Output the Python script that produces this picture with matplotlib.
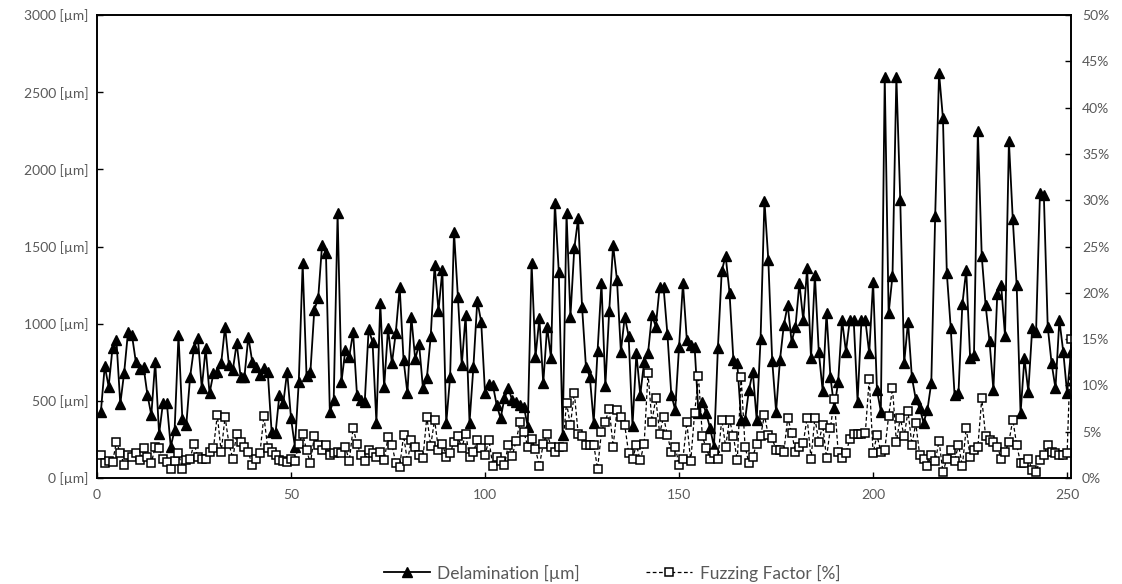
import numpy as np
import matplotlib
matplotlib.use("Agg")
import matplotlib.pyplot as plt
from matplotlib.lines import Line2D

plt.rcParams['font.family'] = ['Lato', 'DejaVu Sans']

# delamination per sample [um], samples 1..251
delamination = [
    430, 726, 592, 842, 894, 480, 683, 948, 927, 754,
    706, 719, 538, 408, 754, 285, 486, 486, 203, 311,
    927, 382, 343, 657, 842, 907, 583, 840, 549, 678,
    689, 743, 981, 732, 700, 873, 657, 657, 916, 754,
    721, 667, 711, 689, 300, 289, 538, 484, 689, 387,
    203, 624, 1390, 660, 690, 1089, 1165, 1510, 1456, 430,
    505, 1715, 624, 830, 786, 944, 538, 505, 495, 963,
    883, 359, 1132, 588, 970, 743, 942, 1236, 765, 549,
    1045, 769, 868, 581, 646, 918, 1380, 1085, 1348, 354,
    657, 1596, 1175, 732, 1056, 359, 721, 1147, 1013, 549,
    609, 603, 473, 387, 516, 581, 505, 495, 473, 462,
    333, 1391, 786, 1035, 614, 981, 776, 1785, 1337, 279,
    1715, 1045, 1488, 1683, 1110, 721, 657, 359, 825, 1262,
    596, 1084, 1510, 1283, 819, 1045, 920, 337, 808, 538,
    754, 808, 1056, 981, 1240, 1236, 930, 540, 441, 851,
    1262, 894, 862, 851, 419, 495, 419, 322, 203, 840,
    1343, 1439, 1201, 765, 743, 376, 376, 570, 689, 376,
    899, 1797, 1413, 760, 430, 765, 992, 1121, 883, 981,
    1262, 1024, 1359, 776, 1316, 819, 566, 1071, 657, 452,
    624, 1024, 819, 1024, 1024, 495, 1024, 1024, 808, 1272,
    570, 430, 2600, 1067, 1310, 2601, 1802, 743, 1013, 652,
    510, 452, 359, 441, 618, 1698, 2623, 2331, 1327, 975,
    535, 550, 1125, 1348, 780, 797, 2250, 1437, 1118, 887,
    572, 1190, 1250, 920, 2183, 1675, 1250, 419, 776, 560,
    970, 948, 1845, 1834, 981, 743, 581, 1024, 819, 549,
    819,
]

# fuzzing factor per sample [%]
fuzzing = [
    2.5, 1.6, 1.8, 1.7, 3.9, 2.7, 1.4, 2.5, 2.3, 2.7,
    1.9, 3.2, 2.3, 1.6, 3.4, 3.2, 2.1, 1.7, 1.0, 1.8,
    2.7, 1.0, 1.9, 2.1, 3.7, 2.3, 2.1, 2.1, 2.8, 3.2,
    6.8, 2.8, 6.6, 3.7, 2.1, 4.8, 3.9, 3.4, 2.8, 1.4,
    2.1, 2.7, 6.7, 3.2, 2.8, 2.5, 1.9, 1.8, 1.7, 2.1,
    1.8, 3.7, 4.8, 3.0, 1.6, 4.5, 3.6, 3.0, 3.6, 2.5,
    2.7, 2.8, 2.7, 3.4, 1.8, 5.4, 3.7, 2.5, 1.8, 3.0,
    2.7, 2.3, 2.8, 1.9, 4.4, 3.6, 1.6, 1.2, 4.6, 1.8,
    4.1, 3.4, 2.5, 2.2, 6.6, 3.5, 6.3, 3.0, 3.7, 2.3,
    2.7, 3.9, 4.5, 3.2, 4.8, 2.3, 2.8, 4.1, 3.2, 2.5,
    4.1, 1.3, 2.3, 1.8, 1.4, 3.6, 2.4, 4.0, 6.0, 5.0,
    3.4, 4.2, 3.1, 1.3, 3.7, 4.8, 3.4, 2.8, 3.4, 3.4,
    8.1, 5.7, 9.2, 4.8, 4.5, 3.6, 3.6, 3.6, 1.0, 5.0,
    6.1, 7.5, 3.4, 7.3, 6.6, 5.7, 2.7, 2.0, 3.6, 1.9,
    3.7, 11.3, 6.1, 8.6, 4.8, 6.6, 4.6, 2.8, 3.4, 1.4,
    2.1, 6.0, 1.8, 7.0, 11.0, 4.5, 3.2, 2.1, 2.7, 2.1,
    6.3, 3.4, 6.3, 4.5, 1.9, 10.9, 3.4, 1.6, 2.3, 3.7,
    4.5, 6.8, 4.6, 4.3, 3.0, 3.0, 2.8, 6.5, 4.9, 2.8,
    3.4, 3.8, 6.5, 2.1, 6.5, 3.9, 5.7, 2.2, 5.4, 8.5,
    2.8, 2.2, 2.7, 4.2, 4.8, 4.8, 4.8, 4.9, 10.7, 2.7,
    4.6, 2.8, 3.0, 6.7, 9.7, 3.9, 6.5, 4.5, 7.2, 3.6,
    5.9, 2.5, 2.0, 1.3, 2.5, 1.8, 4.0, 0.6, 2.1, 3.0,
    1.8, 3.6, 1.3, 5.4, 2.3, 3.0, 3.4, 8.6, 4.5, 4.1,
    3.9, 3.4, 2.1, 2.8, 3.9, 6.3, 3.6, 1.6, 1.6, 2.0,
    0.9, 0.7, 1.9, 2.5, 3.6, 2.8, 2.7, 2.5, 2.5, 2.7,
    15.0,
]

samples = np.arange(1, len(delamination) + 1)
left_ticks = [0, 500, 1000, 1500, 2000, 2500, 3000]
right_ticks = [0, 5, 10, 15, 20, 25, 30, 35, 40, 45, 50]
x_ticks = [0, 50, 100, 150, 200, 250]

grey = "#595959"

fig = plt.figure(figsize=(11.22, 5.84), dpi=100)
ax = fig.add_axes([97 / 1122, 1 - 478 / 584, (1071 - 97) / 1122, (478 - 15) / 584])
ax2 = ax.twinx()

ax.plot(samples, delamination, color="black", linewidth=1.3,
        marker="^", markersize=6.5, markerfacecolor="black", markeredgecolor="black")
ax2.plot(samples, fuzzing, color="black", linewidth=0.9, linestyle=(0, (3, 2)),
         marker="s", markersize=5.5, markerfacecolor="white", markeredgecolor="black",
         markeredgewidth=1.1)

ax.set_xlim(0, 251)
ax.set_ylim(0, 3000)
ax2.set_ylim(0, 50)

ax.set_xticks(x_ticks)
ax.set_yticks(left_ticks)
ax.set_yticklabels([f"{v} [µm]" for v in left_ticks])
ax2.set_yticks(right_ticks)
ax2.set_yticklabels([f"{v}%" for v in right_ticks])

for a in (ax, ax2):
    a.tick_params(direction="in", length=4, width=1, color="black",
                  labelcolor=grey, labelsize=10)
    for s in a.spines.values():
        s.set_linewidth(1.2)
        s.set_color("black")
ax.tick_params(axis="x", pad=8)
ax.tick_params(axis="y", pad=6)
ax2.tick_params(axis="y", pad=8)

handles = [
    Line2D([], [], color="black", linewidth=1.3, marker="^", markersize=6.5),
    Line2D([], [], color="black", linewidth=0.9, linestyle=(0, (3, 2)),
           marker="s", markersize=5.5, markerfacecolor="white", markeredgewidth=1.1),
]
fig.legend(handles, ["Delamination [µm]", "Fuzzing Factor [%]"],
           loc="center", bbox_to_anchor=(612 / 1122, 1 - 573 / 584), ncol=2,
           frameon=False, fontsize=12.5, handlelength=2.65, handletextpad=0.45,
           columnspacing=3.8, labelcolor=grey)

fig.savefig("out.png", dpi=100)
